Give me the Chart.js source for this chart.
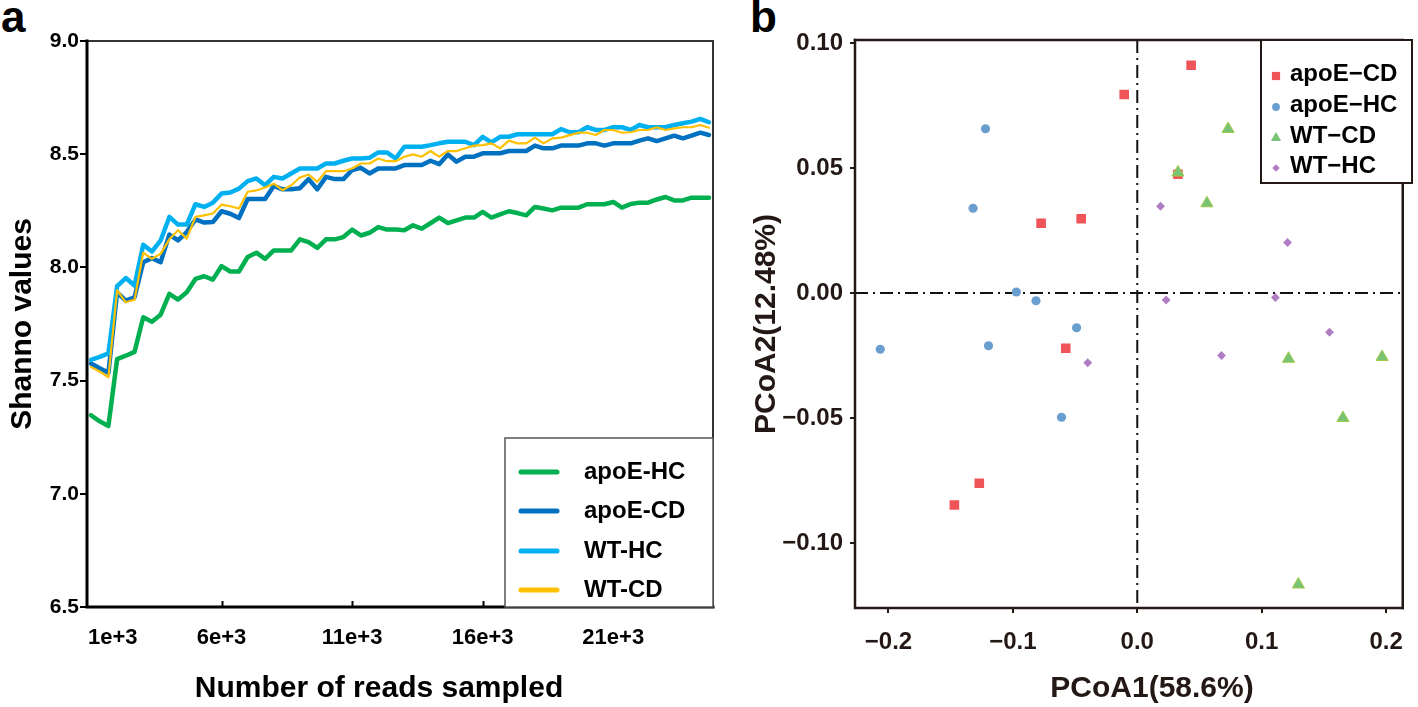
<!DOCTYPE html>
<html>
<head>
<meta charset="utf-8">
<script src="https://cdn.jsdelivr.net/npm/chart.js@4.4.1/dist/chart.umd.min.js"></script>
<style>
  html, body { margin: 0; padding: 0; background: #fff; }
  body { width: 1418px; height: 707px; position: relative; overflow: hidden; font-family: "Liberation Sans", Arial, sans-serif; }
  .panel { position: absolute; top: 0; height: 707px; }
  #wrapA { left: 0; width: 730px; }
  #wrapB { left: 740px; width: 678px; }
  .tag { position: absolute; font-weight: bold; font-size: 44px; line-height: 1; color: #000; }
  .xtitle { position: absolute; font-weight: bold; font-size: 30px; line-height: 30px; white-space: nowrap;
            transform: translate(-50%, -50%); }
</style>
</head>
<body>
<div class="tag" style="left:1px; top:-5px">a</div>
<div class="tag" style="left:750px; top:-5px">b</div>
<div class="panel" id="wrapA"><canvas id="rarefaction" width="730" height="707"></canvas></div>
<div class="panel" id="wrapB"><canvas id="pcoa" width="678" height="707"></canvas></div>
<div class="xtitle" style="left:379px; top:687px; color:#000">Number of reads sampled</div>
<div class="xtitle" style="left:1152px; top:687px; color:#231815">PCoA1(58.6%)</div>
<script>
// panel a : rarefaction curves (Shannon index vs sampling depth)
const readDepths = [1000, 1333, 1667, 2000, 2333, 2667, 3000, 3333, 3667, 4000, 4333, 4667,
  5000, 5333, 5667, 6000, 6333, 6667, 7000, 7333, 7667, 8000, 8333, 8667,
  9000, 9333, 9667, 10000, 10333, 10667, 11000, 11333, 11667, 12000, 12333, 12667,
  13000, 13333, 13667, 14000, 14333, 14667, 15000, 15333, 15667, 16000, 16333, 16667,
  17000, 17333, 17667, 18000, 18333, 18667, 19000, 19333, 19667, 20000, 20333, 20667,
  21000, 21333, 21667, 22000, 22333, 22667, 23000, 23333, 23667, 24000, 24333, 24667];

const apoeHC = [7.347, 7.32, 7.30, 7.595, 7.61, 7.627, 7.78, 7.76, 7.791, 7.883, 7.858, 7.89,
  7.949, 7.961, 7.946, 8.006, 7.982, 7.982, 8.046, 8.065, 8.038, 8.075, 8.075, 8.075,
  8.124, 8.112, 8.086, 8.124, 8.124, 8.134, 8.167, 8.141, 8.153, 8.178, 8.167, 8.167,
  8.164, 8.186, 8.171, 8.195, 8.22, 8.196, 8.208, 8.22, 8.22, 8.245, 8.22, 8.234,
  8.248, 8.24, 8.23, 8.267, 8.26, 8.252, 8.264, 8.264, 8.264, 8.279, 8.279, 8.279,
  8.289, 8.264, 8.28, 8.286, 8.286, 8.30, 8.311, 8.296, 8.296, 8.308, 8.308, 8.308];

const apoeCD = [7.575, 7.555, 7.535, 7.89, 7.853, 7.868, 8.023, 8.041, 8.023, 8.145, 8.119, 8.156,
  8.212, 8.198, 8.20, 8.248, 8.237, 8.218, 8.302, 8.302, 8.302, 8.36, 8.345, 8.345,
  8.35, 8.39, 8.345, 8.40, 8.39, 8.39, 8.43, 8.44, 8.415, 8.437, 8.437, 8.437,
  8.452, 8.452, 8.452, 8.471, 8.456, 8.499, 8.467, 8.489, 8.489, 8.504, 8.504, 8.504,
  8.514, 8.514, 8.514, 8.538, 8.526, 8.526, 8.538, 8.538, 8.538, 8.548, 8.548, 8.538,
  8.548, 8.548, 8.548, 8.56, 8.57, 8.558, 8.57, 8.582, 8.57, 8.582, 8.595, 8.585];

const wtHC = [7.592, 7.605, 7.62, 7.917, 7.953, 7.92, 8.10, 8.07, 8.119, 8.223, 8.189, 8.189,
  8.279, 8.267, 8.286, 8.326, 8.331, 8.348, 8.381, 8.393, 8.363, 8.40, 8.393, 8.415,
  8.437, 8.437, 8.437, 8.459, 8.459, 8.471, 8.481, 8.481, 8.484, 8.508, 8.508, 8.481,
  8.533, 8.533, 8.533, 8.54, 8.548, 8.555, 8.555, 8.555, 8.54, 8.577, 8.552, 8.577,
  8.577, 8.588, 8.588, 8.588, 8.588, 8.588, 8.611, 8.597, 8.597, 8.619, 8.607, 8.607,
  8.619, 8.619, 8.607, 8.629, 8.619, 8.619, 8.619, 8.629, 8.637, 8.644, 8.656, 8.641];

const wtCD = [7.56, 7.54, 7.515, 7.90, 7.846, 7.857, 8.065, 8.038, 8.06, 8.124, 8.164, 8.127,
  8.223, 8.23, 8.238, 8.277, 8.27, 8.26, 8.334, 8.34, 8.353, 8.37, 8.341, 8.363,
  8.397, 8.41, 8.378, 8.425, 8.425, 8.425, 8.437, 8.459, 8.459, 8.481, 8.469, 8.469,
  8.489, 8.499, 8.489, 8.514, 8.489, 8.514, 8.514, 8.526, 8.538, 8.54, 8.548, 8.526,
  8.56, 8.548, 8.548, 8.573, 8.548, 8.57, 8.573, 8.584, 8.595, 8.595, 8.585, 8.607,
  8.607, 8.595, 8.597, 8.607, 8.607, 8.619, 8.607, 8.614, 8.619, 8.619, 8.629, 8.617];

const shannonTicks = [6.5, 7.0, 7.5, 8.0, 8.5, 9.0];
const shannonTickLabels = ['6.5', '7.0', '7.5', '8.0', '8.5', '9.0'];
const depthTicks = [1000, 6000, 11000, 16000, 21000];
const depthTickLabels = ['1e+3', '6e+3', '11e+3', '16e+3', '21e+3'];

// panel b : PCoA scores
const apoeCdX = [0.0433, -0.0105, 0.0327, -0.0773, -0.0451, -0.0575, -0.127, -0.147];
const apoeCdY = [0.0911, 0.0794, 0.0475, 0.0279, 0.0297, -0.0221, -0.0761, -0.0848];
const apoeHcX = [-0.122, -0.132, -0.0972, -0.0814, -0.0488, -0.2066, -0.1196, -0.0609];
const apoeHcY = [0.0657, 0.0339, 0.0004, -0.0031, -0.0139, -0.0225, -0.0211, -0.0497];
const wtCdX = [0.073, 0.0327, 0.056, 0.1216, 0.1968, 0.1653, 0.1295];
const wtCdY = [0.0656, 0.0482, 0.0359, -0.0263, -0.0256, -0.050, -0.1166];
const wtHcX = [0.0187, 0.1208, 0.0232, 0.111, 0.1545, 0.0677, -0.0398];
const wtHcY = [0.0347, 0.0202, -0.0028, -0.0018, -0.0157, -0.025, -0.0279];

const pcoaXTicks = [-0.2, -0.1, 0, 0.1, 0.2];
const pcoaXTickLabels = ['\u22120.2', '\u22120.1', '0.0', '0.1', '0.2'];
const pcoaYTicks = [-0.10, -0.05, 0, 0.05, 0.10];
const pcoaYTickLabels = ['\u22120.10', '\u22120.05', '0.00', '0.05', '0.10'];

const FONT = "'Liberation Sans', Arial, sans-serif";
Chart.defaults.font.family = FONT;
Chart.defaults.font.weight = 'bold';
Chart.defaults.color = '#000';

function pairs(xs, ys) {
  return xs.map((x, i) => ({ x: x, y: ys[i] }));
}

function fixTicks(values) {
  return scale => { scale.ticks = values.map(v => ({ value: v })); };
}

// box round the plot area, axis sides heavier than the other two
const framePlugin = {
  id: 'frame',
  afterDatasetsDraw(chart, args, o) {
    const { ctx, chartArea: a } = chart;
    ctx.save();
    ctx.lineCap = 'square';
    ctx.strokeStyle = o.otherColor;
    ctx.lineWidth = o.otherWidth;
    ctx.beginPath();
    ctx.moveTo(a.left, a.top); ctx.lineTo(a.right, a.top); ctx.lineTo(a.right, a.bottom);
    ctx.stroke();
    ctx.strokeStyle = o.axisColor;
    ctx.lineWidth = o.axisWidth;
    ctx.beginPath();
    ctx.moveTo(a.left, a.top); ctx.lineTo(a.left, a.bottom); ctx.lineTo(a.right, a.bottom);
    ctx.stroke();
    ctx.restore();
  }
};

// small tick marks pointing into the plot on the x axis,
// and the first depth label pushed inside the axis like the original
const innerTicks = {
  id: 'innerTicks',
  beforeDraw(chart, args, o) {
    if (!o.on) return;
    const x = chart.scales.x;
    const items = x.getLabelItems ? x.getLabelItems() : null;
    if (items && items[0] && items[0].options && items[0].options.translation) {
      items[0].options.textAlign = 'left';
      items[0].options.translation = [chart.chartArea.left + 1, items[0].options.translation[1]];
    }
  },
  afterDraw(chart, args, o) {
    if (!o.on) return;
    const { ctx, chartArea: a, scales: { x } } = chart;
    ctx.save();
    ctx.strokeStyle = '#000';
    ctx.lineWidth = 2;
    x.ticks.forEach((t, i) => {
      if (i === 0) return;
      const px = Math.round(x.getPixelForValue(t.value)) + 0.5;
      ctx.beginPath();
      ctx.moveTo(px, a.bottom);
      ctx.lineTo(px, a.bottom - 6);
      ctx.stroke();
    });
    ctx.restore();
  }
};

// dash-dot lines through the origin
const zeroLines = {
  id: 'zeroLines',
  beforeDatasetsDraw(chart, args, o) {
    if (!o.on) return;
    const { ctx, chartArea: a, scales: { x, y } } = chart;
    const px = x.getPixelForValue(0), py = y.getPixelForValue(0);
    ctx.save();
    ctx.strokeStyle = '#111';
    ctx.lineWidth = 2;
    ctx.setLineDash([13, 5, 2, 5]);
    ctx.beginPath();
    ctx.moveTo(a.left, py); ctx.lineTo(a.right, py);
    ctx.moveTo(px, a.top); ctx.lineTo(px, a.bottom);
    ctx.stroke();
    ctx.restore();
  }
};

function marker(ctx, style, r, x, y) {
  ctx.beginPath();
  if (style === 'rect') {
    const s = r * Math.SQRT1_2;
    ctx.rect(x - s, y - s, 2 * s, 2 * s);
  } else if (style === 'circle') {
    ctx.arc(x, y, r, 0, Math.PI * 2);
  } else if (style === 'triangle') {
    ctx.moveTo(x, y - r);
    ctx.lineTo(x + r * 0.866, y + r * 0.5);
    ctx.lineTo(x - r * 0.866, y + r * 0.5);
    ctx.closePath();
  } else {
    ctx.moveTo(x, y - r); ctx.lineTo(x + r, y); ctx.lineTo(x, y + r); ctx.lineTo(x - r, y);
    ctx.closePath();
  }
  ctx.fill();
}

// framed legend drawn inside the plot
const boxLegend = {
  id: 'boxLegend',
  afterDraw(chart, args, o) {
    const ctx = chart.ctx;
    ctx.save();
    ctx.fillStyle = '#fff';
    ctx.fillRect(o.box[0], o.box[1], o.box[2], o.box[3]);
    ctx.strokeStyle = o.border;
    ctx.lineWidth = o.borderWidth;
    ctx.strokeRect(o.box[0], o.box[1], o.box[2], o.box[3]);
    ctx.font = 'bold ' + o.fontSize + 'px ' + FONT;
    ctx.textBaseline = 'middle';
    chart.data.datasets.forEach((ds, i) => {
      const y = o.rows[i];
      if (o.kind === 'line') {
        ctx.strokeStyle = ds.borderColor;
        ctx.lineWidth = 5;
        ctx.lineCap = 'round';
        ctx.beginPath();
        ctx.moveTo(o.symX[0], y); ctx.lineTo(o.symX[1], y);
        ctx.stroke();
      } else {
        ctx.fillStyle = ds.backgroundColor;
        marker(ctx, ds.pointStyle, ds.pointRadius * 0.85, o.symX[0], y + 2);
      }
      ctx.fillStyle = '#000';
      ctx.fillText(ds.label, o.textX, y);
    });
    ctx.restore();
  }
};

new Chart(document.getElementById('rarefaction'), {
  type: 'line',
  data: {
    datasets: [
      { label: 'apoE-HC', data: pairs(readDepths, apoeHC), borderColor: '#00B050', borderWidth: 4.5, order: 3 },
      { label: 'apoE-CD', data: pairs(readDepths, apoeCD), borderColor: '#0070C0', borderWidth: 4.5, order: 2 },
      { label: 'WT-HC', data: pairs(readDepths, wtHC), borderColor: '#00B0F0', borderWidth: 4.5, order: 1 },
      { label: 'WT-CD', data: pairs(readDepths, wtCD), borderColor: '#FFC000', borderWidth: 2.2, order: 0 }
    ]
  },
  options: {
    responsive: false,
    animation: false,
    layout: { padding: { top: 41, right: 17, bottom: 0, left: 0 } },
    elements: {
      point: { radius: 0 },
      line: { tension: 0, borderJoinStyle: 'round', borderCapStyle: 'round' }
    },
    plugins: {
      legend: { display: false },
      tooltip: { enabled: false },
      frame: { axisColor: '#000', axisWidth: 3, otherColor: '#333', otherWidth: 2 },
      innerTicks: { on: true },
      boxLegend: {
        kind: 'line', box: [505, 438, 208, 169], border: '#555', borderWidth: 1.5,
        rows: [472, 511, 551, 590], symX: [521, 557], textX: 584, fontSize: 24
      }
    },
    scales: {
      x: {
        type: 'linear', min: 847, max: 24820,
        afterBuildTicks: fixTicks(depthTicks),
        afterFit: s => { s.height = 100; },
        grid: { display: false },
        border: { display: false },
        ticks: { padding: 10, maxRotation: 0, autoSkip: false, font: { size: 22, weight: 'bold' },
                 callback: (v, i) => depthTickLabels[i] },
        title: { display: false }
      },
      y: {
        min: 6.5, max: 9.0,
        afterBuildTicks: fixTicks(shannonTicks),
        afterFit: s => { s.width = 87; },
        grid: { drawOnChartArea: false, drawTicks: true, tickLength: 7, color: '#000', lineWidth: 2 },
        border: { display: false },
        ticks: { padding: 1, font: { size: 21, weight: 'bold' }, callback: (v, i) => shannonTickLabels[i] },
        title: { display: true, text: 'Shanno values', font: { size: 30, weight: 'bold' },
                 padding: { top: 5, bottom: 0 } }
      }
    }
  },
  plugins: [framePlugin, innerTicks, boxLegend]
});

new Chart(document.getElementById('pcoa'), {
  type: 'scatter',
  data: {
    datasets: [
      { label: 'apoE\u2212CD', data: pairs(apoeCdX, apoeCdY), pointStyle: 'rect', pointRadius: 6.8,
        backgroundColor: '#EF5459', borderColor: '#EF5459', borderWidth: 0, order: 3 },
      { label: 'apoE\u2212HC', data: pairs(apoeHcX, apoeHcY), pointStyle: 'circle', pointRadius: 4.6,
        backgroundColor: '#6A9ECF', borderColor: '#6A9ECF', borderWidth: 0, order: 2 },
      { label: 'WT\u2212CD', data: pairs(wtCdX, wtCdY), pointStyle: 'triangle', pointRadius: 7,
        backgroundColor: '#79C474', borderColor: '#A2C94A', borderWidth: 1, order: 1 },
      { label: 'WT\u2212HC', data: pairs(wtHcX, wtHcY), pointStyle: 'rectRot', pointRadius: 4.4,
        backgroundColor: '#B07CC4', borderColor: '#B07CC4', borderWidth: 0, order: 0 }
    ]
  },
  options: {
    responsive: false,
    animation: false,
    layout: { padding: { top: 40, right: 6, bottom: 0, left: 0 } },
    plugins: {
      legend: { display: false },
      tooltip: { enabled: false },
      frame: { axisColor: '#231815', axisWidth: 2.5, otherColor: '#231815', otherWidth: 2.5 },
      zeroLines: { on: true },
      boxLegend: {
        kind: 'point', box: [521, 40, 151, 143], border: '#231815', borderWidth: 2,
        rows: [74, 105, 136, 166], symX: [536, 536], textX: 550, fontSize: 24
      }
    },
    scales: {
      x: {
        type: 'linear', min: -0.2269, max: 0.2134,
        afterBuildTicks: fixTicks(pcoaXTicks),
        afterFit: s => { s.height = 99; },
        grid: { drawOnChartArea: false, drawTicks: true, tickLength: 5, color: '#231815', lineWidth: 2 },
        border: { display: false },
        ticks: { padding: 15, maxRotation: 0, autoSkip: false, color: '#231815',
                 font: { size: 24, weight: 'bold' }, callback: (v, i) => pcoaXTickLabels[i] },
        title: { display: false }
      },
      y: {
        min: -0.126, max: 0.1012,
        afterBuildTicks: fixTicks(pcoaYTicks),
        afterFit: s => { s.width = 115; },
        grid: { drawOnChartArea: false, drawTicks: true, tickLength: 5, color: '#231815', lineWidth: 2 },
        border: { display: false },
        ticks: { padding: 7, color: '#231815', font: { size: 24, weight: 'bold' },
                 callback: (v, i) => pcoaYTickLabels[i] },
        title: { display: true, text: 'PCoA2(12.48%)', color: '#231815', font: { size: 30, weight: 'bold' },
                 padding: { top: 9, bottom: 0 } }
      }
    }
  },
  plugins: [framePlugin, zeroLines, boxLegend]
});
</script>
</body>
</html>
